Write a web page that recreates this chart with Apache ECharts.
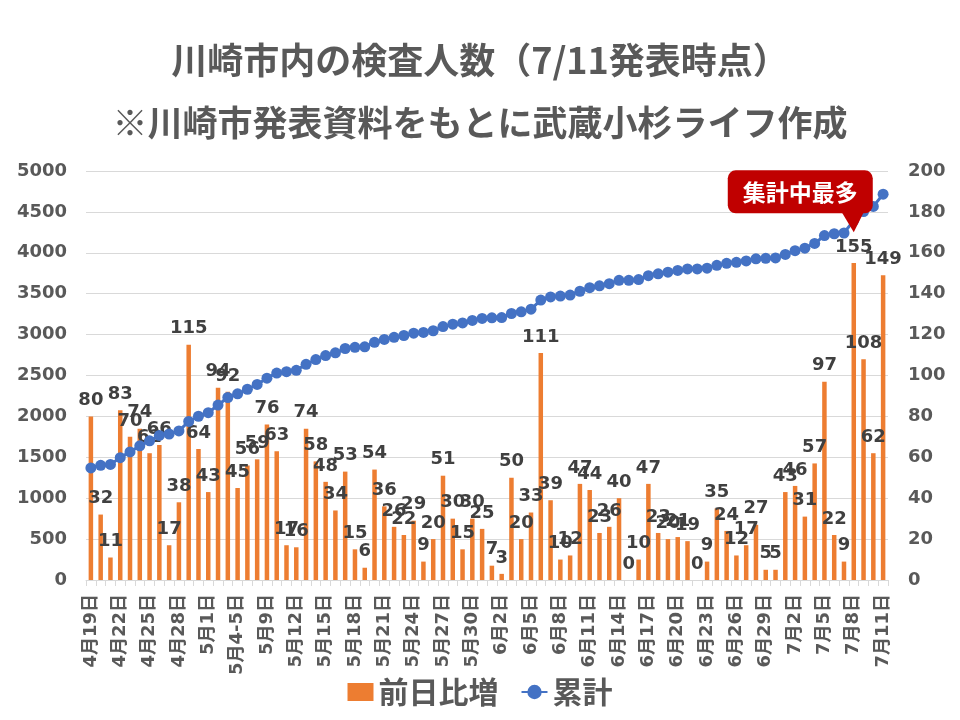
<!DOCTYPE html>
<html>
<head>
<meta charset="utf-8">
<script src="https://cdn.jsdelivr.net/npm/echarts@6/dist/echarts.min.js"></script>
<style>
html,body{margin:0;padding:0;background:#fff;}
#main{width:960px;height:720px;}
</style>
</head>
<body>
<div id="main"></div>
<script>
var titleLine1 = '川崎市内の検査人数（7/11発表時点）';
var titleLine2 = '※川崎市発表資料をもとに武蔵小杉ライフ作成';
var seriesNames = ['前日比増', '累計'];
var calloutText = '集計中最多';

var categories = [
  '4月19日','4月20日','4月21日','4月22日','4月23日','4月24日','4月25日','4月26日','4月27日','4月28日',
  '4月29日','4月30日','5月1日','5月2日','5月3日','5月4-5日','5月7日','5月8日','5月9日','5月10日',
  '5月11日','5月12日','5月13日','5月14日','5月15日','5月16日','5月17日','5月18日','5月19日','5月20日',
  '5月21日','5月22日','5月23日','5月24日','5月25日','5月26日','5月27日','5月28日','5月29日','5月30日',
  '5月31日','6月1日','6月2日','6月3日','6月4日','6月5日','6月6日','6月7日','6月8日','6月9日',
  '6月10日','6月11日','6月12日','6月13日','6月14日','6月15日','6月16日','6月17日','6月18日','6月19日',
  '6月20日','6月21日','6月22日','6月23日','6月24日','6月25日','6月26日','6月27日','6月28日','6月29日',
  '6月30日','7月1日','7月2日','7月3日','7月4日','7月5日','7月6日','7月7日','7月8日','7月9日',
  '7月10日','7月11日'
];

var dailyIncrease = [
  80,32,11,83,70,74,62,66,17,38,
  115,64,43,94,92,45,56,59,76,63,
  17,16,74,58,48,34,53,15,6,54,
  36,26,22,29,9,20,51,30,15,30,
  25,7,3,50,20,33,111,39,10,12,
  47,44,23,26,40,0,10,47,23,20,
  21,19,0,9,35,24,12,17,27,5,
  5,43,46,31,57,97,22,9,155,108,
  62,149
];

var cumulative = [
  1370,1402,1413,1496,1566,1640,1702,1768,1785,1823,
  1938,2002,2045,2139,2231,2276,2332,2391,2467,2530,
  2547,2563,2637,2695,2743,2777,2830,2845,2851,2905,
  2941,2967,2989,3018,3027,3047,3098,3128,3143,3173,
  3198,3205,3208,3258,3278,3311,3422,3461,3471,3483,
  3530,3574,3597,3623,3663,3663,3673,3720,3743,3763,
  3784,3803,3803,3812,3847,3871,3883,3900,3927,3932,
  3937,3980,4026,4057,4114,4211,4233,4242,4397,4505,
  4567,4716
];

var leftTicks = [0,500,1000,1500,2000,2500,3000,3500,4000,4500,5000];
var rightTicks = [0,20,40,60,80,100,120,140,160,180,200];
var calloutIndex = 78;
var calloutValue = 4250;

var gray = '#595959';
var numFont = 'DejaVu Sans, Noto Sans CJK JP, sans-serif';
var cjkFont = 'Noto Sans CJK JP, sans-serif';

var chart = echarts.init(document.getElementById('main'), null, {renderer:'canvas'});
var option = {
  backgroundColor: '#ffffff',
  animation: false,
  title: [
    {text: titleLine1, left: 'center', top: 37,
     textStyle: {fontFamily: cjkFont, fontSize: 36, fontWeight: 'bold', color: gray}},
    {text: titleLine2, left: 'center', top: 100,
     textStyle: {fontFamily: cjkFont, fontSize: 35, fontWeight: 'bold', color: gray}}
  ],
  legend: {
    data: [
      {name: seriesNames[0], icon: 'rect'},
      {name: seriesNames[1]}
    ],
    left: 'center', top: 672,
    itemWidth: 26, itemHeight: 18, itemGap: 22,
    textStyle: {fontFamily: cjkFont, fontSize: 30, fontWeight: 'bold', color: gray}
  },
  grid: {left: 86, right: 72, top: 171, bottom: 140, containLabel: false},
  xAxis: {
    type: 'category',
    data: categories,
    boundaryGap: true,
    axisLine: {show: true, lineStyle: {color: '#D9D9D9', width: 1}},
    axisTick: {show: true, interval: 0, alignWithLabel: false, length: 6, lineStyle: {color: '#D9D9D9'}},
    axisLabel: {interval: 2, rotate: 90, margin: 14, fontFamily: numFont, fontSize: 18, fontWeight: 'bold', color: gray}
  },
  yAxis: [
    {
      type: 'value', min: leftTicks[0], max: leftTicks[leftTicks.length-1], interval: 500,
      axisLine: {show: false}, axisTick: {show: false},
      splitLine: {show: true, lineStyle: {color: '#D9D9D9', width: 1}},
      axisLabel: {margin: 19, fontFamily: numFont, fontSize: 18, fontWeight: 'bold', color: gray,
                  formatter: function (v) { return String(v); }}
    },
    {
      type: 'value', min: rightTicks[0], max: rightTicks[rightTicks.length-1], interval: 20,
      axisLine: {show: false}, axisTick: {show: false},
      splitLine: {show: false},
      axisLabel: {margin: 20, fontFamily: numFont, fontSize: 18, fontWeight: 'bold', color: gray,
                  formatter: function (v) { return String(v); }}
    }
  ],
  series: [
    {
      name: seriesNames[0], type: 'bar', yAxisIndex: 1, data: dailyIncrease,
      barWidth: 4.5, z: 2,
      itemStyle: {color: '#ED7D31'},
      label: {show: true, position: 'top', distance: 7, fontFamily: numFont, fontSize: 18, fontWeight: 'bold', color: '#404040'}
    },
    {
      name: seriesNames[1], type: 'line', yAxisIndex: 0, data: cumulative,
      symbol: 'circle', symbolSize: 11, showAllSymbol: true, z: 3,
      lineStyle: {color: '#4472C4', width: 3},
      itemStyle: {color: '#4472C4'}
    }
  ]
};
chart.setOption(option);

var tip = chart.convertToPixel({xAxisIndex: 0, yAxisIndex: 0}, [calloutIndex, calloutValue]);
var rectL = tip[0] - 126, rectR = tip[0] + 19, rectT = tip[1] - 62, rectB = tip[1] - 19;
chart.setOption({
  graphic: [
    {type: 'rect', z: 100, shape: {x: rectL, y: rectT, width: rectR - rectL, height: rectB - rectT, r: 8},
     style: {fill: '#C00000'}},
    {type: 'polygon', z: 100, shape: {points: [[tip[0]-12, rectB-1], [tip[0]+10, rectB-1], [tip[0], tip[1]]]},
     style: {fill: '#C00000'}},
    {type: 'text', z: 101, x: (rectL + rectR) / 2, y: (rectT + rectB) / 2,
     style: {text: calloutText, fill: '#ffffff', font: 'bold 23px ' + cjkFont, align: 'center', verticalAlign: 'middle'}}
  ]
});
</script>
</body>
</html>
